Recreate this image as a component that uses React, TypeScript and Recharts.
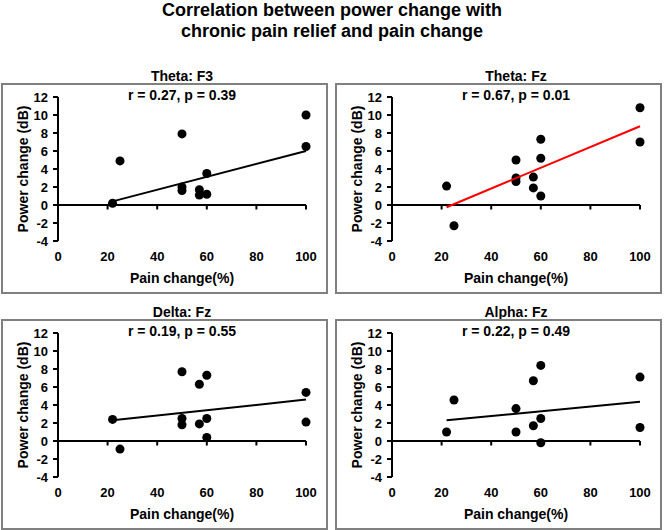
import { ScatterChart, Scatter, XAxis, YAxis, ZAxis, ReferenceLine } from 'recharts';

const FONT = '"Liberation Sans", Arial, sans-serif';

// axis ticks shared by all four panels
const xTicks = [0, 20, 40, 60, 80, 100];
const yTicks = [-4, -2, 0, 2, 4, 6, 8, 10, 12];

// regression lines run from the smallest to the largest pain change
const fitPain = [22, 100];

// Theta: F3
const thetaF3Pain = [22, 25, 50, 50, 50, 57, 57, 60, 60, 100, 100];
const thetaF3Power = [0.2, 4.9, 7.9, 2.0, 1.6, 1.7, 1.1, 3.5, 1.2, 10.0, 6.5];
const thetaF3Fit = [0.4, 6.0];

// Theta: Fz
const thetaFzPain = [22, 25, 50, 50, 50, 57, 57, 60, 60, 60, 100, 100];
const thetaFzPower = [2.1, -2.3, 5.0, 3.0, 2.6, 3.1, 1.9, 7.3, 5.2, 1.0, 10.8, 7.0];
const thetaFzFit = [-0.25, 8.75];

// Delta: Fz
const deltaFzPain = [22, 25, 50, 50, 50, 57, 57, 60, 60, 60, 100, 100];
const deltaFzPower = [2.4, -0.9, 7.7, 2.5, 1.8, 6.3, 1.9, 7.3, 2.5, 0.4, 5.4, 2.1];
const deltaFzFit = [2.3, 4.6];

// Alpha: Fz
const alphaFzPain = [22, 25, 50, 50, 57, 57, 60, 60, 60, 100, 100];
const alphaFzPower = [1.0, 4.55, 3.6, 1.0, 6.7, 1.7, 8.4, 2.5, -0.2, 7.1, 1.5];
const alphaFzFit = [2.3, 4.35];

const BOX_W = 327;
const BOX_H = 211;
const PLOT_LEFT = 57;
const PLOT_W = 248;

const tickStyle = { fill: '#000', fontSize: 13, fontWeight: 'bold', fontFamily: FONT };

type PanelProps = {
  left: number;
  top: number;
  title: string;
  stat: string;
  pain: number[];
  power: number[];
  fit: number[];
  fitColor: string;
  dotArea: number;
};

function Panel({ left, top, title, stat, pain, power, fit, fitColor, dotArea }: PanelProps) {
  const points = pain.map((x, i) => ({ x, y: power[i] }));
  const fitLine = fitPain.map((x, i) => ({ x, y: fit[i] }));
  const textBase = {
    position: 'absolute' as const,
    left: left + PLOT_LEFT,
    width: PLOT_W,
    textAlign: 'center' as const,
    fontFamily: FONT,
    fontWeight: 'bold',
    fontSize: 14,
    lineHeight: '16px',
    whiteSpace: 'nowrap' as const,
  };

  return (
    <>
      <div style={{ ...textBase, top: top - 15 }}>{title}</div>
      <div
        style={{
          position: 'absolute',
          left,
          top,
          width: BOX_W,
          height: BOX_H,
          border: '2px solid #808080',
          boxSizing: 'border-box',
        }}
      />
      <div style={{ position: 'absolute', left, top }}>
        <ScatterChart width={BOX_W} height={BOX_H} margin={{ top: 14, right: 22, bottom: 0, left: 0 }}>
          <XAxis
            type="number"
            dataKey="x"
            domain={[0, 100]}
            ticks={xTicks}
            interval={0}
            axisLine={false}
            tickLine={false}
            tickSize={6}
            tickMargin={5}
            height={53}
            tick={tickStyle}
            label={{
              value: 'Pain change(%)',
              position: 'insideBottom',
              offset: 11,
              fill: '#000',
              fontSize: 14,
              fontWeight: 'bold',
              fontFamily: FONT,
            }}
          />
          <YAxis
            type="number"
            dataKey="y"
            domain={[-4, 12]}
            ticks={yTicks}
            interval={0}
            width={PLOT_LEFT}
            axisLine={{ stroke: '#000', strokeWidth: 2 }}
            tickLine={{ stroke: '#000', strokeWidth: 2 }}
            tickSize={5}
            tickMargin={5}
            tick={tickStyle}
            label={{
              value: 'Power change (dB)',
              angle: -90,
              position: 'center',
              dx: -6,
              fill: '#000',
              fontSize: 14,
              fontWeight: 'bold',
              fontFamily: FONT,
            }}
          />
          <ZAxis range={[dotArea, dotArea]} />
          <ReferenceLine y={0} stroke="#000" strokeWidth={2} />
          {xTicks
            .filter((t) => t > 0)
            .map((t) => (
              <ReferenceLine
                key={t}
                segment={[
                  { x: t, y: 0 },
                  { x: t, y: -0.5 },
                ]}
                stroke="#000"
                strokeWidth={2}
              />
            ))}
          <Scatter data={points} fill="#000" isAnimationActive={false} />
          <Scatter
            data={fitLine}
            line={{ stroke: fitColor, strokeWidth: 2 }}
            shape={() => <g />}
            isAnimationActive={false}
          />
        </ScatterChart>
      </div>
      <div style={{ ...textBase, top: top + 3.5 }}>{stat}</div>
    </>
  );
}

export default function App() {
  return (
    <div style={{ position: 'absolute', left: 0, top: 0, width: 664, height: 530, background: '#fff' }}>
      <div
        style={{
          position: 'absolute',
          left: 0,
          top: 0,
          width: 664,
          textAlign: 'center',
          fontFamily: FONT,
          fontWeight: 'bold',
          fontSize: 18,
          lineHeight: '20.5px',
        }}
      >
        Correlation between power change with
        <br />
        chronic pain relief and pain change
      </div>
      <Panel
        left={1}
        top={83}
        title="Theta: F3"
        stat="r = 0.27, p = 0.39"
        pain={thetaF3Pain}
        power={thetaF3Power}
        fit={thetaF3Fit}
        fitColor="#000"
        dotArea={30}
      />
      <Panel
        left={335}
        top={83}
        title="Theta: Fz"
        stat="r = 0.67, p = 0.01"
        pain={thetaFzPain}
        power={thetaFzPower}
        fit={thetaFzFit}
        fitColor="#ff0000"
        dotArea={30}
      />
      <Panel
        left={1}
        top={319}
        title="Delta: Fz"
        stat="r = 0.19, p = 0.55"
        pain={deltaFzPain}
        power={deltaFzPower}
        fit={deltaFzFit}
        fitColor="#000"
        dotArea={64}
      />
      <Panel
        left={335}
        top={319}
        title="Alpha: Fz"
        stat="r = 0.22, p = 0.49"
        pain={alphaFzPain}
        power={alphaFzPower}
        fit={alphaFzFit}
        fitColor="#000"
        dotArea={64}
      />
    </div>
  );
}
